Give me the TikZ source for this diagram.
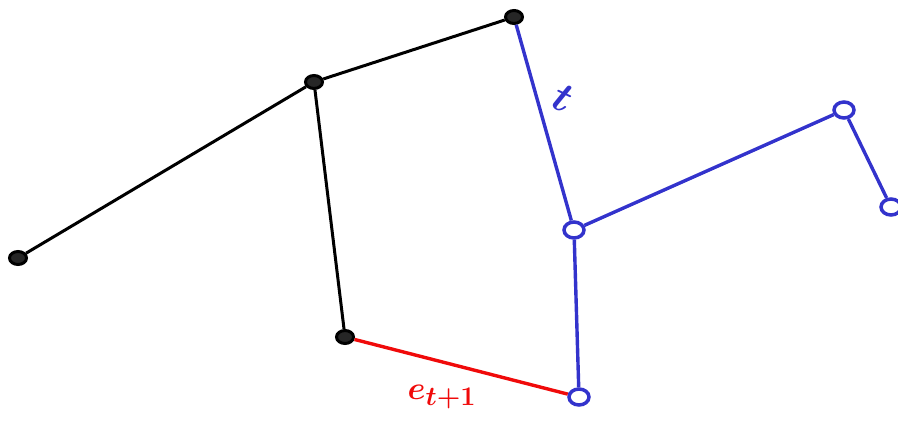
\documentclass[tikz,border=0pt]{standalone}
\usepackage{amsmath,bm}
\usetikzlibrary{shapes.geometric}
\definecolor{penblue}{RGB}{51,51,204}
\definecolor{penred}{RGB}{240,10,10}
\tikzset{
  bnode/.style={ellipse,draw=black,fill=black!85,line width=3pt,minimum width=17pt,minimum height=13pt,inner sep=0pt},
  unode/.style={ellipse,draw=penblue,line width=3.5pt,minimum width=20pt,minimum height=16pt,inner sep=0pt},
  bedge/.style={draw=black,line width=3pt},
  uedge/.style={draw=penblue,line width=3.4pt},
  redge/.style={draw=penred,line width=3.4pt}
}
\begin{document}
\begin{tikzpicture}[x=1pt,y=-1pt]
\useasboundingbox (0,0) rectangle (898,425);
\node[bnode] (a) at (18,258) {};
\node[bnode] (b) at (314,82) {};
\node[bnode] (c) at (514,17) {};
\node[bnode] (d) at (345,337) {};
\node[unode] (e) at (574,230) {};
\node[unode] (f) at (844,110) {};
\node[unode] (g) at (891,207) {};
\node[unode] (h) at (579,397) {};
\draw[bedge] (a) -- (b);
\draw[bedge] (b) -- (c);
\draw[bedge] (b) -- (d);
\draw[uedge] (c) -- (e);
\draw[uedge] (e) -- (f);
\draw[uedge] (f) -- (g);
\draw[uedge] (e) -- (h);
\draw[redge] (d) -- (h);
\node[text=penblue,font=\Huge,scale=1.7,rotate=-25] (tl) at (563,98) {$\bm{t}$};
\node[text=penred,font=\Huge,scale=1.3] (el) at (442,397) {$\bm{e}_{\bm{t+1}}$};
\end{tikzpicture}
\end{document}
